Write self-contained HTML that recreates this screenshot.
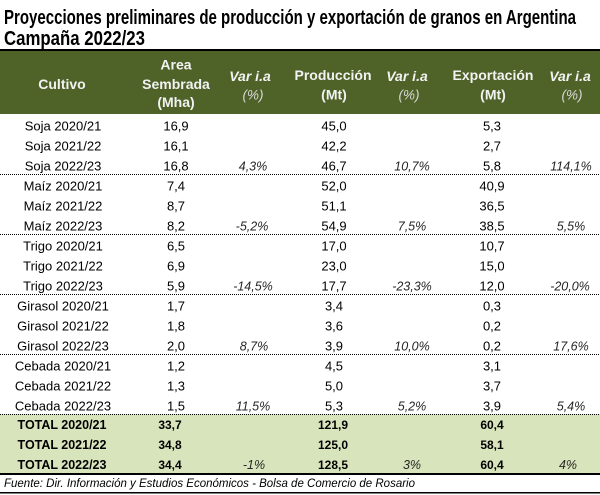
<!DOCTYPE html>
<html>
<head>
<meta charset="utf-8">
<style>
html,body{margin:0;padding:0;background:#fff;}
svg{display:block;}
.t{font-family:"Liberation Sans Narrow","Liberation Sans",sans-serif;font-weight:bold;font-size:20px;fill:#000;}
.h{font-family:"Liberation Sans",sans-serif;font-weight:bold;font-size:14px;fill:#f2f2f2;text-anchor:middle;}
.hi{font-family:"Liberation Sans",sans-serif;font-weight:bold;font-style:italic;font-size:14px;fill:#f2f2f2;text-anchor:middle;}
.hp{font-family:"Liberation Sans",sans-serif;font-style:italic;font-size:13.5px;fill:#d9d9d9;text-anchor:middle;}
.l{font-family:"Liberation Sans",sans-serif;font-size:13px;fill:#000;text-anchor:middle;}
.v{font-family:"Liberation Sans",sans-serif;font-size:13px;fill:#000;text-anchor:middle;}
.p{font-family:"Liberation Sans",sans-serif;font-style:italic;font-size:12.5px;fill:#262626;text-anchor:middle;}
.tl{font-family:"Liberation Sans",sans-serif;font-weight:bold;font-size:12.5px;fill:#000;text-anchor:middle;}
.tv{font-family:"Liberation Sans",sans-serif;font-weight:bold;font-size:12px;fill:#000;text-anchor:middle;}
.tp{font-family:"Liberation Sans",sans-serif;font-style:italic;font-size:12.5px;fill:#262626;text-anchor:middle;}
.f{font-family:"Liberation Sans",sans-serif;font-style:italic;font-size:11.5px;fill:#000;}
</style>
</head>
<body>
<svg width="600" height="495" viewBox="0 0 600 495" xmlns="http://www.w3.org/2000/svg">
<rect x="0" y="0" width="600" height="495" fill="#fff"/>
<text class="t" x="4" y="24" textLength="572" lengthAdjust="spacingAndGlyphs">Proyecciones preliminares de producción y exportación de granos en Argentina</text>
<text class="t" x="4" y="45" textLength="141" lengthAdjust="spacingAndGlyphs">Campaña 2022/23</text>
<rect x="0" y="49" width="600" height="2" fill="#000"/>
<rect x="0" y="51" width="600" height="63" fill="#4f6228"/>
<text class="h" x="62" y="89">Cultivo</text>
<text class="h" x="176" y="69.5">Area</text>
<text class="h" x="176" y="89">Sembrada</text>
<text class="h" x="176" y="107">(Mha)</text>
<text class="hi" x="250" y="81">Var i.a</text>
<text class="hp" x="253" y="99.5">(%)</text>
<text class="h" x="333" y="80">Producción</text>
<text class="h" x="334" y="99.5">(Mt)</text>
<text class="hi" x="407" y="81">Var i.a</text>
<text class="hp" x="409" y="99.5">(%)</text>
<text class="h" x="493" y="80">Exportación</text>
<text class="h" x="493" y="99.5">(Mt)</text>
<text class="hi" x="570" y="81">Var i.a</text>
<text class="hp" x="572" y="99.5">(%)</text>

<rect x="0" y="414" width="600" height="59" fill="#d8e4bc"/>

<g stroke="#000" stroke-width="1" stroke-dasharray="1 1">
<line x1="0" x2="600" y1="174.5" y2="174.5"/>
<line x1="0" x2="600" y1="234.5" y2="234.5"/>
<line x1="0" x2="600" y1="294.5" y2="294.5"/>
<line x1="0" x2="600" y1="354.5" y2="354.5"/>
<line x1="0" x2="600" y1="414.5" y2="414.5"/>
</g>

<text class="l" x="63" y="130.5">Soja 2020/21</text>
<text class="v" x="176" y="130.5">16,9</text>
<text class="v" x="334" y="130.5">45,0</text>
<text class="v" x="492" y="130.5">5,3</text>
<text class="l" x="63" y="150.5">Soja 2021/22</text>
<text class="v" x="176" y="150.5">16,1</text>
<text class="v" x="334" y="150.5">42,2</text>
<text class="v" x="492" y="150.5">2,7</text>
<text class="l" x="63" y="170.5">Soja 2022/23</text>
<text class="v" x="176" y="170.5">16,8</text>
<text class="p" x="253" y="170.5">4,3%</text>
<text class="v" x="334" y="170.5">46,7</text>
<text class="p" x="412" y="170.5">10,7%</text>
<text class="v" x="492" y="170.5">5,8</text>
<text class="p" x="571" y="170.5">114,1%</text>

<text class="l" x="63" y="190.5">Maíz 2020/21</text>
<text class="v" x="176" y="190.5">7,4</text>
<text class="v" x="334" y="190.5">52,0</text>
<text class="v" x="492" y="190.5">40,9</text>
<text class="l" x="63" y="210.5">Maíz 2021/22</text>
<text class="v" x="176" y="210.5">8,7</text>
<text class="v" x="334" y="210.5">51,1</text>
<text class="v" x="492" y="210.5">36,5</text>
<text class="l" x="63" y="230.5">Maíz 2022/23</text>
<text class="v" x="176" y="230.5">8,2</text>
<text class="p" x="252" y="230.5">-5,2%</text>
<text class="v" x="334" y="230.5">54,9</text>
<text class="p" x="412" y="230.5">7,5%</text>
<text class="v" x="492" y="230.5">38,5</text>
<text class="p" x="571" y="230.5">5,5%</text>

<text class="l" x="63" y="250.5">Trigo 2020/21</text>
<text class="v" x="176" y="250.5">6,5</text>
<text class="v" x="334" y="250.5">17,0</text>
<text class="v" x="492" y="250.5">10,7</text>
<text class="l" x="63" y="270.5">Trigo 2021/22</text>
<text class="v" x="176" y="270.5">6,9</text>
<text class="v" x="334" y="270.5">23,0</text>
<text class="v" x="492" y="270.5">15,0</text>
<text class="l" x="63" y="290.5">Trigo 2022/23</text>
<text class="v" x="176" y="290.5">5,9</text>
<text class="p" x="253" y="290.5">-14,5%</text>
<text class="v" x="334" y="290.5">17,7</text>
<text class="p" x="412" y="290.5">-23,3%</text>
<text class="v" x="492" y="290.5">12,0</text>
<text class="p" x="570" y="290.5">-20,0%</text>

<text class="l" x="63" y="310.5">Girasol 2020/21</text>
<text class="v" x="176" y="310.5">1,7</text>
<text class="v" x="334" y="310.5">3,4</text>
<text class="v" x="492" y="310.5">0,3</text>
<text class="l" x="63" y="330.5">Girasol 2021/22</text>
<text class="v" x="176" y="330.5">1,8</text>
<text class="v" x="334" y="330.5">3,6</text>
<text class="v" x="492" y="330.5">0,2</text>
<text class="l" x="63" y="350.5">Girasol 2022/23</text>
<text class="v" x="176" y="350.5">2,0</text>
<text class="p" x="254" y="350.5">8,7%</text>
<text class="v" x="334" y="350.5">3,9</text>
<text class="p" x="412" y="350.5">10,0%</text>
<text class="v" x="492" y="350.5">0,2</text>
<text class="p" x="571" y="350.5">17,6%</text>

<text class="l" x="63" y="370.5">Cebada 2020/21</text>
<text class="v" x="176" y="370.5">1,2</text>
<text class="v" x="334" y="370.5">4,5</text>
<text class="v" x="492" y="370.5">3,1</text>
<text class="l" x="63" y="390.5">Cebada 2021/22</text>
<text class="v" x="176" y="390.5">1,3</text>
<text class="v" x="334" y="390.5">5,0</text>
<text class="v" x="492" y="390.5">3,7</text>
<text class="l" x="63" y="410.5">Cebada 2022/23</text>
<text class="v" x="176" y="410.5">1,5</text>
<text class="p" x="253" y="410.5">11,5%</text>
<text class="v" x="334" y="410.5">5,3</text>
<text class="p" x="412" y="410.5">5,2%</text>
<text class="v" x="492" y="410.5">3,9</text>
<text class="p" x="571" y="410.5">5,4%</text>

<text class="tl" x="62" y="429">TOTAL 2020/21</text>
<text class="tv" x="170" y="429">33,7</text>
<text class="tv" x="333" y="429">121,9</text>
<text class="tv" x="492" y="429">60,4</text>
<text class="tl" x="62" y="449">TOTAL 2021/22</text>
<text class="tv" x="170" y="449">34,8</text>
<text class="tv" x="333" y="449">125,0</text>
<text class="tv" x="492" y="449">58,1</text>
<text class="tl" x="62" y="469">TOTAL 2022/23</text>
<text class="tv" x="170" y="469">34,4</text>
<text class="tp" x="254" y="469">-1%</text>
<text class="tv" x="333" y="469">128,5</text>
<text class="tp" x="412" y="469">3%</text>
<text class="tv" x="492" y="469">60,4</text>
<text class="tp" x="568" y="469">4%</text>

<rect x="0" y="473" width="600" height="2" fill="#000"/>
<text class="f" x="4" y="487" textLength="411" lengthAdjust="spacingAndGlyphs">Fuente: Dir. Información y Estudios Económicos - Bolsa de Comercio de Rosario</text>
<rect x="0" y="492" width="600" height="1.5" fill="#000"/>
</svg>
</body>
</html>
